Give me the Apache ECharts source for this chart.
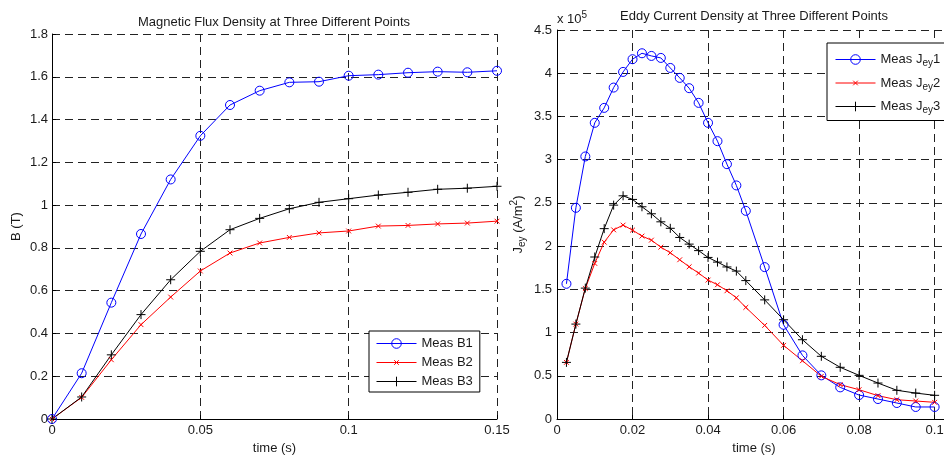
<!DOCTYPE html>
<html>
<head>
<meta charset="utf-8">
<script src="https://cdn.jsdelivr.net/npm/echarts@6/dist/echarts.min.js"></script>
<style>html,body{margin:0;padding:0;background:#fff;}#c{width:944px;height:456px;}</style>
</head>
<body>
<div id="c"></div>
<script>
// ---- Left plot: magnetic flux density (T) ----
const timeB = [0, 0.01, 0.02, 0.03, 0.04, 0.05, 0.06, 0.07, 0.08, 0.09, 0.10, 0.11, 0.12, 0.13, 0.14, 0.15];
const B1 = [0, 0.214, 0.544, 0.865, 1.120, 1.324, 1.468, 1.535, 1.574, 1.577, 1.605, 1.610, 1.619, 1.624, 1.621, 1.628];
const B2 = [0, 0.101, 0.277, 0.441, 0.570, 0.692, 0.776, 0.823, 0.849, 0.870, 0.879, 0.902, 0.905, 0.912, 0.916, 0.925];
const B3 = [0, 0.103, 0.300, 0.488, 0.651, 0.784, 0.885, 0.938, 0.983, 1.013, 1.030, 1.047, 1.060, 1.074, 1.079, 1.088];

// ---- Right plot: eddy current density (x 1e5 A/m^2) ----
const timeJ = [0.0025, 0.005, 0.0075, 0.01, 0.0125, 0.015, 0.0175, 0.02, 0.0225, 0.025,
               0.0275, 0.03, 0.0325, 0.035, 0.0375, 0.04, 0.0425, 0.045, 0.0475, 0.05,
               0.055, 0.06, 0.065, 0.07, 0.075, 0.08, 0.085, 0.09, 0.095, 0.1];
const J1 = [1.564, 2.443, 3.037, 3.426, 3.599, 3.834, 4.015, 4.162, 4.231, 4.200,
            4.177, 4.061, 3.946, 3.827, 3.657, 3.426, 3.214, 2.948, 2.702, 2.408,
            1.757, 1.090, 0.736, 0.505, 0.366, 0.277, 0.231, 0.185, 0.139, 0.139];
const J2 = [0.655, 1.098, 1.510, 1.800, 2.046, 2.188, 2.243, 2.185, 2.116, 2.069,
            1.988, 1.923, 1.842, 1.761, 1.688, 1.607, 1.553, 1.483, 1.402, 1.291,
            1.083, 0.852, 0.674, 0.494, 0.397, 0.339, 0.270, 0.223, 0.208, 0.193];
const J3 = [0.655, 1.098, 1.514, 1.874, 2.202, 2.474, 2.582, 2.540, 2.455, 2.374,
            2.281, 2.206, 2.100, 2.023, 1.948, 1.869, 1.815, 1.759, 1.711, 1.601,
            1.378, 1.148, 0.917, 0.725, 0.598, 0.505, 0.416, 0.332, 0.300, 0.274];

const leftTitle = 'Magnetic Flux Density at Three Different Points';
const rightTitle = 'Eddy Current Density at Three Different Points';
const namesB = ['Meas B1', 'Meas B2', 'Meas B3'];
const namesJ = ['Meas Jey1', 'Meas Jey2', 'Meas Jey3'];

const FONT = '"Liberation Sans", Arial, Helvetica, sans-serif';
const TXT = '#1a1a1a';
const CIRCLE = 'path://M0,5A5,5,0,1,1,10,5A5,5,0,1,1,0,5Z';
// small x centred in a 10x10 box (the bare moves set the box size)
const CROSS = 'path://M0,0M10,10M2.6,2.6L7.4,7.4M7.4,2.6L2.6,7.4';
const PLUS = 'path://M5,0L5,10M0,5L10,5';

function pairs(xs, ys) { return xs.map((x, i) => [x, ys[i]]); }

function mkSeries(name, xi, xs, ys, color, symbol, size) {
  return {
    name: name, type: 'line', xAxisIndex: xi, yAxisIndex: xi,
    data: pairs(xs, ys), color: color,
    symbol: symbol, symbolSize: size, showAllSymbol: true,
    lineStyle: { color: color, width: 1 },
    itemStyle: { color: 'rgba(0,0,0,0)', borderColor: color, borderWidth: 1 },
    emphasis: { disabled: true }, silent: true
  };
}

const gridLine = { show: true, lineStyle: { color: '#222', type: [8, 5], width: 1 } };
const axLine = { show: true, onZero: false, lineStyle: { color: '#000', width: 1 } };
const axTick = { show: true, inside: true, length: 4, lineStyle: { color: '#000' } };
const lbl = (m) => ({ color: TXT, fontSize: 13, margin: m, fontFamily: FONT });
const nameStyle = { color: TXT, fontSize: 13, fontFamily: FONT };

const richN = { fontSize: 13, lineHeight: 18, color: TXT, fontFamily: FONT };
const richS = { fontSize: 10, lineHeight: 10, verticalAlign: 'bottom', color: TXT, fontFamily: FONT };
const richP = { fontSize: 10, lineHeight: 10, verticalAlign: 'top', color: TXT, fontFamily: FONT };

const chart = echarts.init(document.getElementById('c'), null, { renderer: 'canvas' });
chart.setOption({
  animation: false,
  backgroundColor: '#fff',
  textStyle: { fontFamily: FONT },
  title: [
    { text: leftTitle, left: 274, top: 16, textAlign: 'center', padding: 0,
      textStyle: { fontSize: 13, fontWeight: 'normal', color: TXT, fontFamily: FONT } },
    { text: rightTitle, left: 754, top: 10, textAlign: 'center', padding: 0,
      textStyle: { fontSize: 13, fontWeight: 'normal', color: TXT, fontFamily: FONT } }
  ],
  grid: [
    { left: 52, top: 34, width: 445, height: 385, outerBoundsMode: 'none', containLabel: false },
    { left: 557, top: 30, width: 394, height: 389, outerBoundsMode: 'none', containLabel: false }
  ],
  xAxis: [
    { gridIndex: 0, type: 'value', min: 0, max: 0.15, interval: 0.05,
      axisLine: axLine, axisTick: axTick, splitLine: gridLine, axisLabel: lbl(5),
      name: 'time (s)', nameLocation: 'middle', nameGap: 20, nameTextStyle: nameStyle },
    { gridIndex: 1, type: 'value', min: 0, max: 0.10434, interval: 0.02,
      axisLine: axLine, axisTick: axTick, splitLine: gridLine,
      axisLabel: Object.assign(lbl(5), { showMaxLabel: false,
        formatter: function (v) { const r = v / 0.02; return Math.abs(r - Math.round(r)) < 1e-6 ? String(+v.toFixed(4)) : ''; } }),
      name: 'time (s)', nameLocation: 'middle', nameGap: 20, nameTextStyle: nameStyle }
  ],
  yAxis: [
    { gridIndex: 0, type: 'value', min: 0, max: 1.8, interval: 0.2,
      axisLine: axLine, axisTick: axTick, splitLine: gridLine, axisLabel: lbl(4),
      name: 'B (T)', nameLocation: 'middle', nameGap: 29, nameTextStyle: nameStyle },
    { gridIndex: 1, type: 'value', min: 0, max: 4.5, interval: 0.5,
      axisLine: axLine, axisTick: axTick, splitLine: gridLine, axisLabel: lbl(5),
      name: '{n|J}{s|ey}{n| (A/m}{p|2}{n|)}', nameLocation: 'middle', nameGap: 30,
      nameTextStyle: Object.assign({}, nameStyle, { rich: { n: richN, s: richS, p: richP } }) }
  ],
  legend: [
    { data: namesB, orient: 'vertical', left: 369, top: 331,
      backgroundColor: '#fff', borderColor: '#000', borderWidth: 1,
      padding: [6, 7, 4, 7], itemGap: 6, itemWidth: 40, itemHeight: 12,
      selectedMode: false,
      lineStyle: { width: 1 }, itemStyle: { borderWidth: 1 },
      textStyle: { fontSize: 13, color: TXT, fontFamily: FONT } },
    { data: namesJ, orient: 'vertical', left: 827, top: 43,
      backgroundColor: '#fff', borderColor: '#000', borderWidth: 1,
      padding: [10, 8, 5, 8], itemGap: 8, itemWidth: 40, itemHeight: 12,
      selectedMode: false,
      lineStyle: { width: 1 }, itemStyle: { borderWidth: 1 },
      formatter: function (name) { return '{n|Meas J}{s|ey}{n|' + name.slice(-1) + '}'; },
      textStyle: { fontSize: 13, color: TXT, fontFamily: FONT, rich: { n: richN, s: richS } } }
  ],
  graphic: [
    { type: 'text', left: 557, top: 10, silent: true,
      style: { text: '{n|x 10}{p|5}', rich: { n: richN, p: richP }, fill: TXT } }
  ],
  series: [
    mkSeries(namesB[0], 0, timeB, B1, '#0000ff', CIRCLE, 9),
    mkSeries(namesB[1], 0, timeB, B2, '#ff0000', CROSS, 10),
    mkSeries(namesB[2], 0, timeB, B3, '#000000', PLUS, 9),
    mkSeries(namesJ[0], 1, timeJ, J1, '#0000ff', CIRCLE, 9),
    mkSeries(namesJ[1], 1, timeJ, J2, '#ff0000', CROSS, 10),
    mkSeries(namesJ[2], 1, timeJ, J3, '#000000', PLUS, 9)
  ]
});
</script>
</body>
</html>
